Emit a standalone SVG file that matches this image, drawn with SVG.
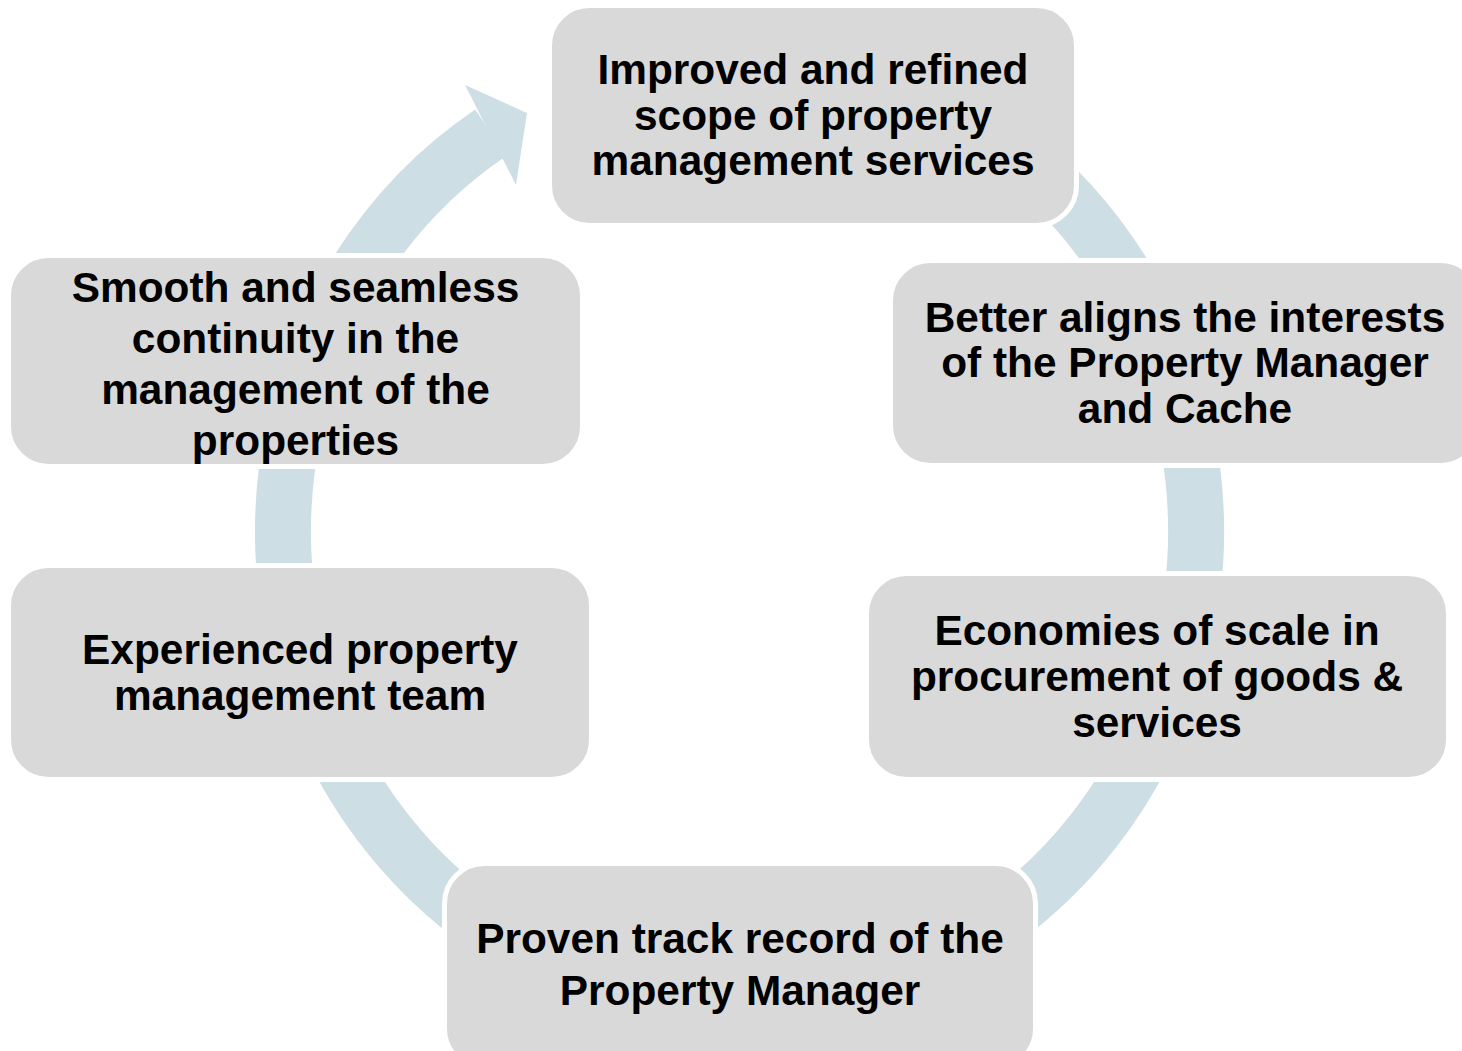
<svg xmlns="http://www.w3.org/2000/svg" width="1462" height="1051" viewBox="0 0 1462 1051">
<style>
.box{fill:#d9d9d9;stroke:#ffffff;stroke-width:5}
.t{font-family:"Liberation Sans",Arial,sans-serif;font-weight:bold;font-size:42.4px;fill:#000000;text-anchor:middle}
.ring{fill:none;stroke:#cddfe4;stroke-width:56;stroke-linecap:butt}
</style>
<rect width="1462" height="1051" fill="#ffffff"/>
<g id="connectors">
<path class="ring" d="M 967.75 119.6 A 456.5 475 0 1 1 490.9 132.6"/>
<polygon points="465,85 527,113 516,185" fill="#cddfe4"/>
</g>
<g id="node-top">
<rect class="box" x="549.5" y="5.5" width="527" height="220" rx="40"/>
<text class="t"><tspan x="813" y="84">Improved and refined</tspan><tspan x="813" y="130">scope of property</tspan><tspan x="813" y="175">management services</tspan></text>
</g>
<g id="node-better">
<rect class="box" x="890.5" y="260.5" width="590" height="205" rx="40"/>
<text class="t"><tspan x="1185" y="332">Better aligns the interests</tspan><tspan x="1185" y="377">of the Property Manager</tspan><tspan x="1185" y="423">and Cache</tspan></text>
</g>
<g id="node-economies">
<rect class="box" x="866.5" y="573.5" width="582" height="206" rx="40"/>
<text class="t"><tspan x="1157" y="645">Economies of scale in</tspan><tspan x="1157" y="691">procurement of goods &amp;</tspan><tspan x="1157" y="737">services</tspan></text>
</g>
<g id="node-proven">
<rect class="box" x="444.5" y="863.5" width="591" height="205" rx="40"/>
<text class="t"><tspan x="740" y="953">Proven track record of the</tspan><tspan x="740" y="1005">Property Manager</tspan></text>
</g>
<g id="node-experienced">
<rect class="box" x="8.5" y="565.5" width="583" height="214" rx="40"/>
<text class="t"><tspan x="300" y="664">Experienced property</tspan><tspan x="300" y="710">management team</tspan></text>
</g>
<g id="node-smooth">
<rect class="box" x="8.5" y="255.5" width="574" height="211" rx="40"/>
<text class="t"><tspan x="295.5" y="302">Smooth and seamless</tspan><tspan x="295.5" y="353">continuity in the</tspan><tspan x="295.5" y="404">management of the</tspan><tspan x="295.5" y="455">properties</tspan></text>
</g>
</svg>
